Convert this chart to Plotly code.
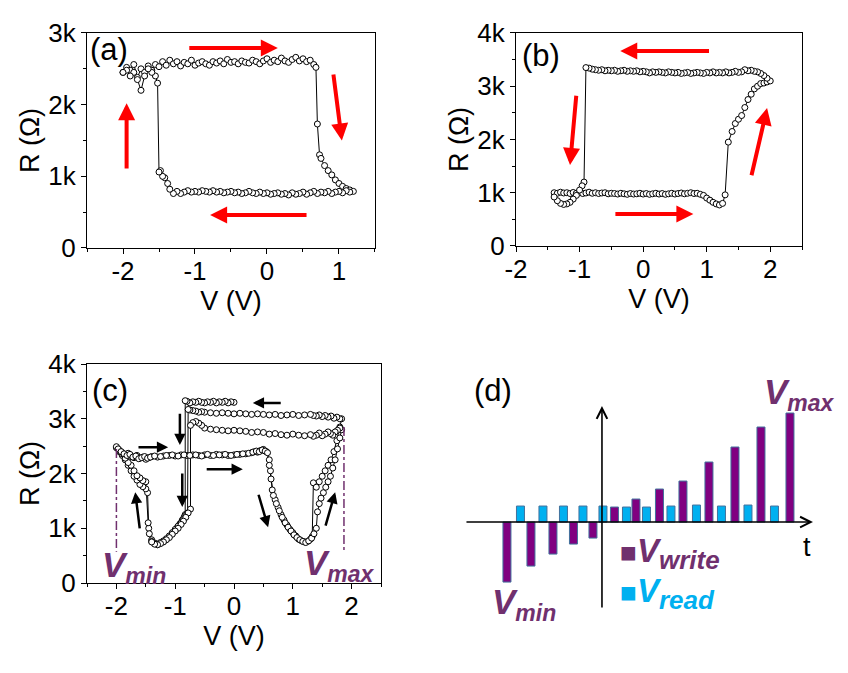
import plotly.graph_objects as go

# ---------------- data ----------------
# (a) R-V loop
Va = [-2.00,-1.95,-1.90,-1.85,-1.80,-1.75,-1.70,-1.65,-1.60,-1.55,-1.50,-1.45,-1.40,-1.35,-1.30,-1.25,-1.20,-1.15,-1.10,-1.05,
      -1.00,-0.95,-0.90,-0.85,-0.80,-0.75,-0.70,-0.65,-0.60,-0.55,-0.50,-0.45,-0.40,-0.35,-0.30,-0.25,-0.20,-0.15,-0.10,-0.05,
      0.00,0.05,0.10,0.15,0.20,0.25,0.30,0.35,0.40,0.45,0.50,0.55,0.60,0.65,0.68,0.70,0.73,0.75,0.80,0.85,0.90,0.95,1.00,1.05,
      1.10,1.15,1.20,
      1.15,1.10,1.05,1.00,0.95,0.90,0.85,0.80,0.75,0.70,0.65,0.60,0.55,0.50,0.45,0.40,0.35,0.30,0.25,0.20,0.15,0.10,0.05,0.00,
      -0.05,-0.10,-0.15,-0.20,-0.25,-0.30,-0.35,-0.40,-0.45,-0.50,-0.55,-0.60,-0.65,-0.70,-0.75,-0.80,-0.85,-0.90,-0.95,-1.00,
      -1.05,-1.10,-1.15,-1.20,-1.25,-1.30,-1.35,-1.38,-1.42,-1.45,-1.48,-1.50,-1.52,-1.55,-1.60,-1.65,-1.70,-1.75,-1.80,-1.85,
      -1.90,-1.95,-2.00]
Ra = [2450,2520,2480,2560,2380,2500,2450,2540,2480,2560,2530,2600,2550,2620,2570,2600,2540,2590,2570,2620,
      2550,2580,2600,2570,2550,2600,2580,2610,2570,2630,2590,2600,2570,2610,2590,2580,2620,2600,2570,2610,
      2640,2590,2620,2600,2650,2610,2590,2630,2660,2610,2640,2600,2620,2560,2520,1730,1300,1250,1150,1080,1020,950,900,860,
      830,810,790,
      780,800,770,790,780,760,790,770,780,760,790,770,750,780,760,750,770,740,760,750,770,760,750,770,
      760,780,760,770,790,770,760,780,770,790,780,770,790,780,800,780,790,800,780,790,
      780,800,780,760,790,760,820,900,980,1000,1080,1060,2300,2400,2450,2500,2400,2200,2350,2450,
      2400,2480,2450]

# (b) R-V loop
Vb = [-1.40,-1.35,-1.30,-1.25,-1.20,-1.15,-1.10,-1.05,-1.00,-0.95,-0.90,-0.85,-0.80,-0.75,-0.70,-0.65,-0.60,-0.55,-0.50,-0.45,
      -0.40,-0.35,-0.30,-0.25,-0.20,-0.15,-0.10,-0.05,0.00,0.05,0.10,0.15,0.20,0.25,0.30,0.35,0.40,0.45,0.50,0.55,
      0.60,0.65,0.70,0.75,0.80,0.85,0.90,0.95,1.00,1.05,1.10,1.15,1.20,1.25,1.29,1.34,1.40,1.45,1.50,1.55,1.60,1.65,
      1.70,1.75,1.80,1.85,1.90,1.95,2.00,
      1.95,1.90,1.85,1.80,1.75,1.70,1.65,1.60,1.55,1.50,1.45,1.40,1.35,1.30,1.25,1.20,1.15,1.10,1.05,1.00,
      0.95,0.90,0.85,0.80,0.75,0.70,0.65,0.60,0.55,0.50,0.45,0.40,0.35,0.30,0.25,0.20,0.15,0.10,0.05,0.00,
      -0.05,-0.10,-0.15,-0.20,-0.25,-0.30,-0.35,-0.40,-0.45,-0.50,-0.55,-0.60,-0.65,-0.70,-0.75,-0.80,-0.85,-0.90,
      -0.93,-0.96,-1.00,-1.05,-1.10,-1.15,-1.20,-1.25,-1.30,-1.35,-1.40]
Rb = [1000,990,1010,995,1000,985,1005,990,1000,985,995,1010,990,1000,985,995,1000,980,990,985,
      975,990,980,970,985,975,980,990,975,985,970,980,990,975,985,970,980,990,975,985,
      995,980,990,1000,985,990,970,950,900,860,820,790,770,800,960,1950,2150,2300,2380,2450,2600,2750,
      2850,2950,3000,3050,3060,3080,3100,
      3150,3200,3240,3270,3280,3300,3290,3310,3270,3260,3280,3260,3250,3270,3250,3260,3250,3270,3250,3260,
      3240,3250,3260,3250,3240,3260,3250,3240,3260,3250,3260,3270,3250,3260,3270,3260,3270,3250,3270,3280,
      3270,3290,3280,3290,3280,3300,3290,3280,3300,3290,3300,3290,3310,3300,3310,3320,3340,3350,
      1200,1130,1050,950,880,820,790,780,800,850,920]

# (c) R-V loops with increasing write amplitude
Vc = [0.00,-0.05,-0.10,-0.15,-0.20,-0.25,-0.30,-0.35,-0.40,-0.45,-0.50,-0.55,-0.60,-0.65,-0.70,-0.75,-0.80,-0.83,
      -0.83,-0.85,-0.88,-0.92,-0.96,-1.00,-1.05,-1.10,-1.15,-1.20,-1.25,-1.30,-1.35,-1.40,-1.45,-1.47,-1.50,-1.55,-1.60,
      -1.65,-1.70,-1.75,-1.80,-1.85,-1.90,-1.95,-2.00,
      -1.95,-1.90,-1.85,-1.80,-1.75,-1.70,-1.65,-1.60,-1.55,-1.50,-1.45,-1.40,-1.30,-1.20,-1.10,-1.00,-0.90,-0.80,-0.70,
      -0.60,-0.50,-0.40,-0.30,-0.20,-0.10,0.00,0.10,0.20,0.30,0.35,0.40,0.45,0.50,0.55,
      0.60,0.62,0.65,0.70,0.75,0.80,0.85,0.90,0.95,1.00,1.05,1.10,1.15,1.20,1.25,1.30,1.33,
      1.35,1.40,1.45,1.50,1.55,1.60,1.65,1.70,1.75,1.80,1.83,
      1.80,1.75,1.70,1.65,1.60,1.55,1.50,1.45,1.40,1.35,1.30,1.20,1.10,1.00,0.90,0.80,0.70,0.60,0.50,0.40,
      0.30,0.20,0.10,0.00,-0.10,-0.20,-0.30,-0.40,-0.50,-0.55,-0.60,-0.65,-0.70,-0.75,-0.78,
      -0.79,-0.82,-0.86,-0.90,-0.95,-1.00,-1.05,-1.10,-1.15,-1.20,-1.25,-1.30,-1.35,-1.40,-1.44,-1.46,-1.50,-1.55,-1.60,
      -1.65,-1.70,-1.75,-1.80,-1.85,-1.90,-1.95,-2.00,
      -1.97,-1.92,-1.87,-1.82,-1.77,-1.72,-1.67,-1.62,-1.57,-1.52,-1.47,-1.42,-1.35,-1.25,-1.15,-1.05,-0.95,-0.85,-0.75,
      -0.65,-0.55,-0.45,-0.35,-0.25,-0.15,-0.05,0.05,0.15,0.25,0.32,0.38,0.43,0.48,0.53,0.57,
      0.60,0.63,0.67,0.72,0.77,0.82,0.87,0.92,0.97,1.02,1.07,1.12,1.17,1.22,1.27,1.32,1.36,1.40,
      1.42,1.45,1.48,1.52,1.56,1.60,1.64,1.68,1.72,1.76,1.80,1.83,
      1.80,1.76,1.72,1.68,1.64,1.60,1.55,1.50,1.45,1.40,1.35,1.30,1.20,1.10,1.00,0.90,0.80,0.70,0.60,0.50,
      0.40,0.30,0.20,0.10,0.00,-0.10,-0.20,-0.30,-0.40,-0.50,-0.55,-0.60,-0.65,-0.70,-0.74,
      -0.74,-0.78,-0.82,-0.86,-0.90,-0.95,-1.00,-1.05,-1.10,-1.15,-1.20,-1.25,-1.30,-1.35,-1.40]
Rc = [3300,3310,3290,3320,3300,3310,3290,3320,3300,3310,3290,3300,3320,3300,3310,3290,3320,3330,
      1250,1200,1150,1080,1020,960,900,850,800,760,730,710,730,790,1000,1650,1720,1760,1800,
      1880,1950,2050,2150,2250,2330,2400,2470,
      2420,2380,2340,2370,2310,2290,2330,2280,2300,2260,2290,2310,2300,2320,2330,2320,2340,2330,2340,
      2330,2340,2330,2350,2340,2330,2340,2350,2360,2380,2400,2390,2420,2440,2400,
      2250,2050,1700,1520,1380,1250,1150,1060,980,920,860,800,770,750,760,800,850,
      1830,1750,1850,1950,2050,2150,2250,2400,2600,2850,3000,
      3000,3030,3010,3050,3030,3060,3040,3070,3050,3060,3080,3070,3060,3080,3070,3060,3080,3070,3080,3090,
      3080,3090,3100,3090,3100,3110,3100,3110,3120,3130,3120,3140,3150,3160,3170,
      1280,1230,1160,1100,1040,980,920,860,810,770,740,700,720,760,900,1100,1850,1870,1920,
      1960,2050,2150,2200,2280,2360,2420,2490,
      2450,2400,2360,2330,2350,2300,2320,2270,2290,2310,2280,2300,2320,2310,2330,2340,2320,2340,2330,
      2340,2320,2350,2330,2340,2350,2330,2350,2360,2370,2390,2410,2400,2430,2410,2380,
      2150,1900,1600,1450,1320,1200,1100,1020,950,880,830,790,760,740,770,820,900,1000,
      1300,1450,1550,1650,1750,1850,1950,2100,2250,2450,2650,2800,
      2830,2790,2760,2700,2730,2760,2720,2690,2740,2700,2680,2710,2690,2700,2720,2700,2710,2730,2720,2750,
      2760,2750,2770,2780,2790,2780,2790,2800,2810,2830,2880,2920,2950,2930,2880,
      1350,1280,1200,1130,1070,1000,950,890,830,790,750,720,700,710,750]

# (c) Vmin / Vmax markers
vmin_V = [-2.0, -2.0]
vmin_R = [2450, 570]
vmax_V = [1.87, 1.87]
vmax_R = [2850, 570]

# (d) pulse scheme (arbitrary units)
t_write = [-9.5, -7.1, -4.9, -2.85, -0.9, 1.25, 3.4, 5.75, 8.1, 10.7, 13.3, 15.9, 18.8]
v_write = [-3.0, -2.2, -1.6, -1.1, -0.8, 0.75, 1.15, 1.65, 2.05, 3.0, 3.75, 4.75, 5.45]
t_read = [-8.15, -5.9, -3.85, -1.9, 0.1, 2.45, 4.45, 6.9, 9.45, 11.95, 14.6, 17.25]
v_read = [0.8, 0.8, 0.8, 0.8, 0.8, 0.75, 0.75, 0.8, 0.85, 0.8, 0.85, 0.8]

R_ticks = [0, 1000, 2000, 3000, 4000]
R_ticktext = ["0", "1k", "2k", "3k", "4k"]
V_ticks = [-2, -1, 0, 1, 2]
V_ticktext = ["-2", "-1", "0", "1", "2"]

# ---------------- styling ----------------
FONT = "Arial, Liberation Sans, sans-serif"
PURPLE_T = "#70306e"
PURPLE_B = "#800080"
CYAN = "#00b0f0"
TICKF = dict(family=FONT, size=26, color="black")
TITLEF = dict(family=FONT, size=27, color="black")

fig = go.Figure()

def loop_trace(x, y, xa, ya):
    return go.Scatter(x=x, y=y, xaxis=xa, yaxis=ya, mode="lines+markers",
                      line=dict(color="black", width=1),
                      marker=dict(symbol="circle", size=6, color="white",
                                  line=dict(color="black", width=1)),
                      showlegend=False, hoverinfo="skip")

fig.add_trace(loop_trace(Va, Ra, "x", "y"))
fig.add_trace(loop_trace(Vb, Rb, "x2", "y2"))
fig.add_trace(loop_trace(Vc, Rc, "x3", "y3"))
for xs, ys in [(vmin_V, vmin_R), (vmax_V, vmax_R)]:
    fig.add_trace(go.Scatter(x=xs, y=ys, xaxis="x3", yaxis="y3", mode="lines",
                             line=dict(color=PURPLE_T, width=1.5, dash="dashdot"),
                             showlegend=False, hoverinfo="skip"))

fig.add_trace(go.Bar(x=t_write, y=v_write, xaxis="x4", yaxis="y4", width=0.8,
                     marker=dict(color=PURPLE_B, line=dict(color="#41719c", width=1)),
                     showlegend=False))
fig.add_trace(go.Bar(x=t_read, y=v_read, xaxis="x4", yaxis="y4", width=0.8,
                     marker=dict(color=CYAN, line=dict(color="#41719c", width=1)),
                     showlegend=False))

def xax(domain, rng, anchor):
    return dict(domain=domain, range=rng, anchor=anchor, automargin=False,
                tickvals=V_ticks, ticktext=V_ticktext, ticklabelstandoff=-5,
                ticks="outside", ticklen=5, tickwidth=1, tickcolor="black",
                showline=True, linecolor="black", linewidth=1, mirror=True,
                showgrid=False, zeroline=False, tickfont=TICKF,
                minor=dict(dtick=0.5, ticks="outside", ticklen=3, tickcolor="black"),
                title=dict(text="V (V)", font=TITLEF, standoff=0))

def yax(domain, rng, anchor, nt):
    return dict(domain=domain, range=rng, anchor=anchor, automargin=False,
                tickvals=R_ticks[:nt], ticktext=R_ticktext[:nt],
                ticks="outside", ticklen=5, tickwidth=1, tickcolor="black",
                showline=True, linecolor="black", linewidth=1, mirror=True,
                showgrid=False, zeroline=False, tickfont=TICKF,
                minor=dict(dtick=500, ticks="outside", ticklen=3, tickcolor="black"),
                title=dict(text="R (Ω)", font=TITLEF, standoff=0))

fig.update_layout(
    width=848, height=673, margin=dict(l=0, r=0, t=0, b=0, autoexpand=False),
    paper_bgcolor="white", plot_bgcolor="white", barmode="overlay",
    xaxis=xax([0.1026, 0.4422], [-2.5, 1.5], "y"),
    yaxis=yax([0.6315, 0.951], [0, 3000], "x", 4),
    xaxis2=xax([0.6085, 0.9458], [-2, 2.5], "y2"),
    yaxis2=yax([0.6345, 0.951], [0, 4000], "x2", 5),
    xaxis3=xax([0.1026, 0.4493], [-2.5, 2.5], "y3"),
    yaxis3=yax([0.1337, 0.4591], [0, 4000], "x3", 5),
    xaxis4=dict(domain=[0.5483, 0.9587], range=[-13.7, 21.1], anchor="y4", visible=False, automargin=False),
    yaxis4=dict(domain=[0.095, 0.3967], range=[-4.35, 5.8], anchor="x4", visible=False, automargin=False),
)

ann = []
def arrow(x, y, ax, ay, xr, yr, color, w, size):
    ann.append(dict(x=x, y=y, ax=ax, ay=ay, xref=xr, yref=yr, axref=xr, ayref=yr,
                    showarrow=True, arrowhead=2, arrowsize=size, arrowwidth=w,
                    arrowcolor=color, text=""))

RED = "#ff0000"
# (a)
arrow(0.15, 2790, -1.1, 2790, "x", "y", RED, 4, 0.85)
arrow(1.04, 1500, 0.92, 2440, "x", "y", RED, 4, 0.85)
arrow(-0.79, 460, 0.57, 460, "x", "y", RED, 4, 0.85)
arrow(-1.95, 2020, -1.95, 1090, "x", "y", RED, 4, 0.85)
# (b)
arrow(-0.36, 3660, 1.06, 3660, "x2", "y2", RED, 4, 0.85)
arrow(-1.15, 1520, -1.05, 2850, "x2", "y2", RED, 4, 0.85)
arrow(0.79, 600, -0.46, 600, "x2", "y2", RED, 4, 0.85)
arrow(1.95, 2590, 1.70, 1300, "x2", "y2", RED, 4, 0.85)
# (c)
K = "black"
arrow(0.32, 3290, 0.82, 3290, "x3", "y3", K, 2.5, 0.9)
arrow(-1.12, 2480, -1.65, 2480, "x3", "y3", K, 2.5, 0.9)
arrow(-0.92, 2520, -0.92, 3120, "x3", "y3", K, 2.5, 0.9)
arrow(0.15, 2080, -0.49, 2080, "x3", "y3", K, 2.5, 0.9)
arrow(-0.88, 1390, -0.88, 2030, "x3", "y3", K, 2.5, 0.9)
arrow(-1.68, 1660, -1.60, 970, "x3", "y3", K, 2.5, 0.9)
arrow(0.58, 1020, 0.41, 1640, "x3", "y3", K, 2.5, 0.9)
arrow(1.72, 1660, 1.55, 1020, "x3", "y3", K, 2.5, 0.9)
# (d) axes
ann.append(dict(x=21.1, y=0, ax=-13.7, ay=0, xref="x4", yref="y4", axref="x4", ayref="y4",
                showarrow=True, arrowhead=5, arrowsize=1.3, arrowwidth=1.6, arrowcolor="black", text=""))
ann.append(dict(x=0, y=5.8, ax=0, ay=-4.35, xref="x4", yref="y4", axref="x4", ayref="y4",
                showarrow=True, arrowhead=5, arrowsize=1.3, arrowwidth=1.6, arrowcolor="black", text=""))

def label(text, px, py, size, color="black", xanchor="left", yanchor="top"):
    ann.append(dict(text=text, x=px / 848, y=1 - py / 673, xref="paper", yref="paper",
                    showarrow=False, xanchor=xanchor, yanchor=yanchor,
                    font=dict(family=FONT, size=size, color=color)))

label("(a)", 88, 30, 31)
label("(b)", 520, 36, 31)
label("(c)", 90, 371, 31)
label("(d)", 472, 371, 31)

def VM(s, sub=23):
    return "<b><i>V<sub><span style='font-size:%dpx'>%s</span></sub></i></b>" % (sub, s)

label(VM("min"), 100, 543, 35, PURPLE_T)
label(VM("max"), 302, 541, 35, PURPLE_T)
label(VM("min"), 490, 580, 35, PURPLE_T)
label(VM("max"), 762, 370, 35, PURPLE_T)
label("t", 801, 530, 27)
label("<span style='font-size:28px'>■</span>" + VM("write", 26), 618, 530, 33, PURPLE_T)
label("<span style='font-size:28px'>■</span>" + VM("read", 26), 618, 570, 33, CYAN)

fig.update_layout(annotations=ann)
fig.write_html("out.html", config={"displayModeBar": False},
               post_script="document.body.style.margin='0px';document.body.style.overflow='hidden';")
